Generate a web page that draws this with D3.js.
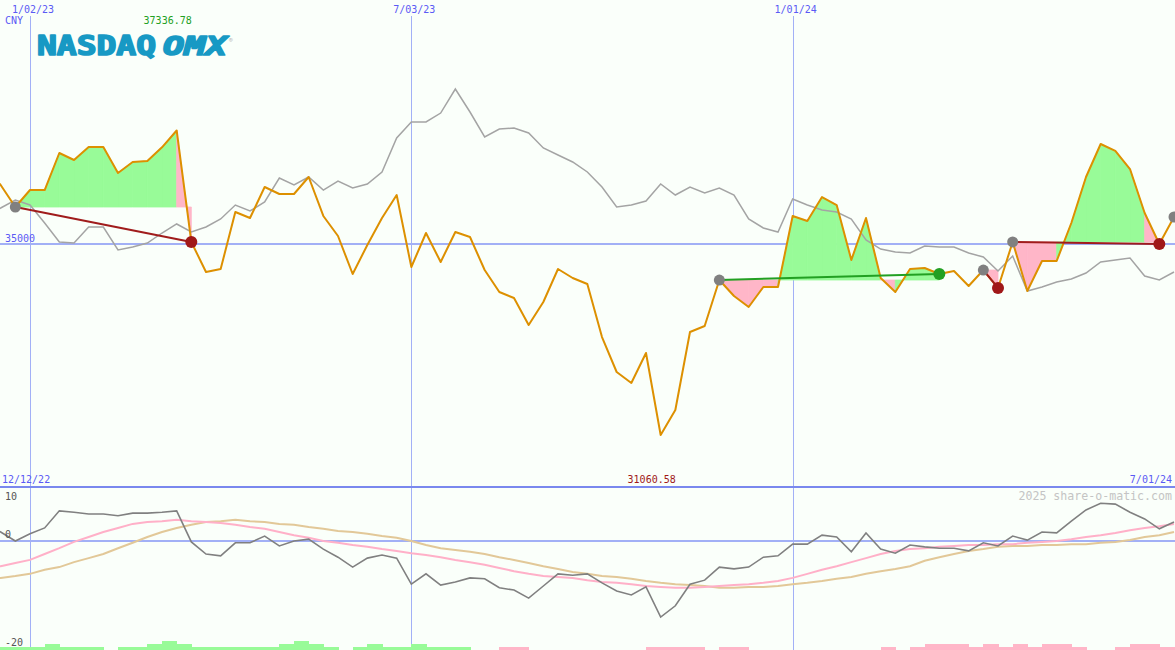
<!DOCTYPE html>
<html>
<head>
<meta charset="utf-8">
<script src="https://cdn.jsdelivr.net/npm/d3@7"></script>
<style>
  html, body { margin: 0; padding: 0; background: #fafffa; }
  svg { display: block; }
  text { font-family: "DejaVu Sans Mono", monospace; font-size: 10px; }
</style>
</head>
<body>
<svg id="chart"></svg>
<script>
// weekly closes, Mondays from 12/12/22 to 7/01/24
const price = [
  36523, 36214, 35760, 36110, 36110, 36873, 36729, 36997, 36997, 36461,
  36688, 36708, 36990, 37336.78, 35039, 34420, 34482, 35657, 35533, 36172,
  36028, 36028, 36378, 35575, 35162, 34379, 34977, 35533, 36007, 34523,
  35224, 34626, 35245, 35142, 34461, 34008, 33884, 33328, 33802, 34482,
  34297, 34173, 33080, 32359, 32132, 32751, 31060.58, 31576, 33184, 33307,
  34255, 33926, 33699, 34111, 34111, 35575, 35471, 35966, 35801, 34668,
  35533, 34297, 34008, 34482, 34503, 34379, 34441, 34132, 34461, 34091,
  35039, 34029, 34647, 34647, 35430, 36378, 37059, 36915, 36543, 35636,
  34998, 35554
];

// comparison line (grey)
const compare = [
  35595, 35739, 35904, 35801, 35430, 35039, 35018, 35348, 35348, 34874,
  34935, 35018, 35224, 35410, 35245, 35348, 35513, 35801, 35678, 35863,
  36358, 36214, 36378, 36110, 36296, 36152, 36234, 36482, 37182, 37512,
  37512, 37697, 38192, 37718, 37203, 37368, 37388, 37285, 36976, 36832,
  36688, 36482, 36172, 35760, 35801, 35884, 36234, 36007, 36172, 36049,
  36152, 36007, 35513, 35327, 35245, 35925, 35801, 35698, 35657, 35513,
  35080, 34894, 34833, 34812, 34956, 34935, 34935, 34812, 34729, 34441,
  34750, 34029, 34111, 34214, 34276, 34400, 34626, 34668, 34709, 34338,
  34255, 34420
];

// lower panel: indicator and its two averages
const indicator = [
  3.6, 2.0, 0, 1.6, 2.9, 6.7, 6.4, 6.0, 6.0, 5.6,
  6.2, 6.2, 6.4, 6.7, -0.2, -2.9, -3.3, -0.4, -0.4, 1.1,
  -1.1, 0, 0.4, -1.8, -3.6, -5.8, -3.8, -3.1, -3.8, -9.6,
  -7.3, -9.8, -9.1, -8.2, -8.4, -10.4, -10.9, -12.7, -10.0, -7.3,
  -7.6, -7.3, -9.3, -11.1, -12.0, -10.2, -16.9, -14.4, -9.6, -8.7,
  -5.8, -6.2, -5.8, -3.6, -3.3, -0.7, -0.7, 1.3, 0.9, -2.4,
  1.8, -1.8, -2.7, -0.9, -1.3, -1.6, -1.6, -2.2, -0.4, -1.1,
  1.1, 0.2, 2.0, 1.8, 4.4, 6.9, 8.4, 8.2, 6.4, 4.9,
  2.7, 4.2
];
const avgFast = [
  -6.2, -5.6, -4.9, -4.2, -2.9, -1.6, -0.2, 0.9, 2.0, 2.9,
  3.8, 4.2, 4.4, 4.7, 4.4, 4.2, 4.0, 3.6, 3.1, 2.7,
  2.0, 1.3, 0.7, 0, -0.4, -0.9, -1.3, -1.8, -2.2, -2.7,
  -3.1, -3.6, -4.2, -4.7, -5.3, -6.0, -6.7, -7.3, -7.8, -8.0,
  -8.2, -8.7, -9.1, -9.3, -9.6, -10.0, -10.2, -10.4, -10.4, -10.2,
  -10.0, -9.8, -9.6, -9.3, -8.9, -8.2, -7.3, -6.4, -5.6, -4.7,
  -3.8, -2.9, -2.2, -1.8, -1.6, -1.3, -1.1, -0.9, -0.9, -0.7,
  -0.7, -0.4, -0.2, 0, 0.4, 0.9, 1.3, 1.8, 2.4, 2.9,
  3.3, 3.8
];
const avgSlow = [
  -8.7, -8.2, -7.8, -7.3, -6.4, -5.8, -4.7, -3.8, -2.9, -1.6,
  -0.4, 0.9, 2.0, 2.9, 3.6, 4.2, 4.4, 4.7, 4.4, 4.2,
  3.8, 3.6, 3.1, 2.7, 2.2, 2.0, 1.6, 1.1, 0.7, 0,
  -0.9, -1.6, -2.0, -2.4, -2.9, -3.6, -4.2, -4.9, -5.6, -6.2,
  -6.9, -7.3, -7.8, -8.0, -8.4, -8.9, -9.3, -9.6, -9.8, -10.0,
  -10.4, -10.4, -10.2, -10.2, -10.0, -9.6, -9.3, -8.9, -8.4, -8.0,
  -7.3, -6.7, -6.2, -5.6, -4.4, -3.6, -2.9, -2.2, -1.8, -1.3,
  -1.1, -1.1, -0.9, -0.9, -0.7, -0.7, -0.4, -0.2, 0.2, 0.9,
  1.3, 2.0
];

// signal strength per week (green +, pink -)
const signal = [
  1, 1, 1, 1, 2, 1, 1, 1, 0, 1, 1, 2, 3, 2, 1, 1, 1, 1, 1, 1,
  2, 3, 2, 1, 0, 1, 2, 1, 1, 2, 1, 1, 1, 0, 0, -1, -1, 0, 0, 0,
  0, 0, 0, 0, 0, -1, -1, -1, -1, 0, -1, -1, 0, 0, 0, 0, 0, 0, 0, 0,
  0, -1, 0, -1, -2, -2, -2, -1, -2, -1, -2, -1, -2, -2, -1, 0, 0, -1, -2, -2,
  -1
];

// trades: [entry week, exit week] (null = still open)
const trades = [[2, 14], [50, 65], [68, 69], [70, 80], [81, null]];

const gridDates = [new Date(2023, 0, 2), new Date(2023, 6, 3), new Date(2024, 0, 1)];
const gridLabels = ['1/02/23', '7/03/23', '1/01/24'];
const priceLevel = 35000;
const startLabel = '12/12/22';
const endLabel = '7/01/24';

const width = 1175;
const height = 650;
const weeks = d3.timeMonday.range(new Date(2022, 11, 12), new Date(2024, 6, 2));

const svg = d3.select('#chart').attr('width', width).attr('height', height);
svg.append('rect').attr('width', width).attr('height', height).attr('fill', '#fafffa');

const x = d3.scaleTime()
  .domain([new Date(2023, 0, 2), new Date(2024, 6, 1)])
  .range([30, 1174]);
const y = d3.scaleLinear().domain([31060.58, 37336.78]).range([435, 130.5]);
const yi = d3.scaleLinear().domain([0, 10]).range([541, 496]);
const yb = d3.scaleLinear().domain([0, 3]).range([650, 641]);
const xi = (i) => x(weeks[i]);

const gridBlue = '#a2b0f6';

// grid
const grid = svg.append('g').attr('shape-rendering', 'crispEdges');
grid.selectAll('line.v')
  .data(gridDates)
  .join('line')
  .attr('x1', (d) => Math.round(x(d)) + 0.5).attr('x2', (d) => Math.round(x(d)) + 0.5)
  .attr('y1', 16).attr('y2', height)
  .attr('stroke', gridBlue).attr('stroke-width', 1);
grid.append('line')
  .attr('x1', 0).attr('x2', width)
  .attr('y1', y(priceLevel)).attr('y2', y(priceLevel))
  .attr('stroke', gridBlue).attr('stroke-width', 2);
grid.append('line')
  .attr('x1', 0).attr('x2', width)
  .attr('y1', yi(0)).attr('y2', yi(0))
  .attr('stroke', gridBlue).attr('stroke-width', 2);
grid.append('line')
  .attr('x1', 0).attr('x2', width)
  .attr('y1', 487).attr('y2', 487)
  .attr('stroke', '#7a88ee').attr('stroke-width', 2);

// trade shading: area between close and entry level, week by week
const polys = [];
trades.forEach(([a, b]) => {
  if (b == null) return;
  const base = price[a];
  for (let k = a; k < b; k++) {
    polys.push({
      pts: [[xi(k), y(base)], [xi(k), y(price[k])], [xi(k + 1), y(price[k + 1])], [xi(k + 1), y(base)]],
      up: price[k + 1] > base,
    });
  }
});
svg.append('g')
  .selectAll('path')
  .data(polys)
  .join('path')
  .attr('d', (d) => d3.line()(d.pts) + 'Z')
  .attr('fill', (d) => (d.up ? '#98fb98' : '#ffb6c8'))
  .attr('stroke', (d) => (d.up ? '#98fb98' : '#ffb6c8'))
  .attr('stroke-width', 0.8)
  .attr('stroke-linejoin', 'miter');

// lines
const idx = d3.range(weeks.length);
const lineOf = (vals, ys) => d3.line().x((i) => xi(i)).y((i) => ys(vals[i]));

svg.append('path')
  .attr('d', lineOf(compare, y)(idx))
  .attr('fill', 'none').attr('stroke', '#a4a4a4').attr('stroke-width', 1.5);

svg.append('path')
  .attr('d', lineOf(price, y)(idx))
  .attr('fill', 'none').attr('stroke', '#dd9000').attr('stroke-width', 2)
  .attr('stroke-linejoin', 'round');

// trade lines
const closed = trades.filter((t) => t[1] != null);
svg.append('g')
  .selectAll('line')
  .data(closed)
  .join('line')
  .attr('x1', (d) => xi(d[0])).attr('y1', (d) => y(price[d[0]]))
  .attr('x2', (d) => xi(d[1])).attr('y2', (d) => y(price[d[1]]))
  .attr('stroke', (d) => (price[d[1]] > price[d[0]] ? '#22a022' : '#a01c1c'))
  .attr('stroke-width', 2);

// entry / exit dots
svg.append('g')
  .selectAll('circle')
  .data(trades)
  .join('circle')
  .attr('cx', (d) => xi(d[0])).attr('cy', (d) => y(price[d[0]]))
  .attr('r', 5.5).attr('fill', '#808080');
svg.append('g')
  .selectAll('circle')
  .data(closed)
  .join('circle')
  .attr('cx', (d) => xi(d[1])).attr('cy', (d) => y(price[d[1]]))
  .attr('r', 6)
  .attr('fill', (d) => (price[d[1]] > price[d[0]] ? '#22a022' : '#a01818'));

// lower panel
svg.append('path')
  .attr('d', lineOf(avgSlow, yi)(idx))
  .attr('fill', 'none').attr('stroke', '#e2c898').attr('stroke-width', 2);
svg.append('path')
  .attr('d', lineOf(avgFast, yi)(idx))
  .attr('fill', 'none').attr('stroke', '#ffb0c8').attr('stroke-width', 2);
svg.append('path')
  .attr('d', lineOf(indicator, yi)(idx))
  .attr('fill', 'none').attr('stroke', '#808080').attr('stroke-width', 1.6);

svg.append('g')
  .attr('shape-rendering', 'crispEdges')
  .selectAll('rect')
  .data(signal.map((v, j) => ({ v, j })).filter((d) => d.v !== 0))
  .join('rect')
  .attr('x', (d) => xi(d.j))
  .attr('width', (d) => xi(d.j + 1) - xi(d.j) + 0.5)
  .attr('y', (d) => yb(Math.abs(d.v)))
  .attr('height', (d) => yb(0) - yb(Math.abs(d.v)))
  .attr('fill', (d) => (d.v > 0 ? '#98fb98' : '#ffb6c8'));

// labels
const blue = '#5a5af5';
const txt = svg.append('g');
txt.selectAll('text.date')
  .data(gridDates)
  .join('text')
  .attr('x', (d) => x(d) + 3).attr('y', 13)
  .attr('text-anchor', 'middle').attr('fill', blue)
  .text((d, i) => gridLabels[i]);
txt.append('text').attr('x', 5).attr('y', 24).attr('fill', blue).text('CNY');
txt.append('text').attr('x', 5).attr('y', y(priceLevel) - 2).attr('fill', blue).text(String(priceLevel));

const iMax = price.indexOf(d3.max(price));
const iMin = price.indexOf(d3.min(price));
txt.append('text').attr('x', xi(iMax) - 9).attr('y', 24)
  .attr('text-anchor', 'middle').attr('fill', '#22a022')
  .text(d3.max(price).toFixed(2));
txt.append('text').attr('x', xi(iMin) - 9).attr('y', 483)
  .attr('text-anchor', 'middle').attr('fill', '#a01818')
  .text(d3.min(price).toFixed(2));
txt.append('text').attr('x', 2).attr('y', 483).attr('fill', blue).text(startLabel);
txt.append('text').attr('x', 1172).attr('y', 483).attr('text-anchor', 'end').attr('fill', blue).text(endLabel);

txt.append('text').attr('x', 5).attr('y', 500).attr('fill', '#555').text('10');
txt.append('text').attr('x', 5).attr('y', 538).attr('fill', '#555').text('0');
txt.append('text').attr('x', 5).attr('y', 646).attr('fill', '#555').text('-20');
txt.append('text').attr('x', 1172).attr('y', 500).attr('text-anchor', 'end')
  .attr('fill', '#c4c4c4').style('font-size', '11.6px').text('2025 share-o-matic.com');

// logo
const logo = svg.append('g').attr('fill', '#1799c4').attr('stroke', '#1799c4').attr('stroke-width', 1.6)
  .attr('stroke-linejoin', 'round')
  .style('font-family', '"DejaVu Sans", sans-serif').style('font-weight', 'bold');
logo.append('text').attr('x', 37).attr('y', 55)
  .attr('textLength', 119).attr('lengthAdjust', 'spacingAndGlyphs')
  .style('font-size', '26px').text('NASDAQ');
logo.append('text').attr('x', 163).attr('y', 55)
  .attr('textLength', 64).attr('lengthAdjust', 'spacingAndGlyphs')
  .style('font-size', '26px').style('font-style', 'italic').text('OMX');
logo.append('text').attr('x', 229).attr('y', 42).attr('fill', '#aaa').attr('stroke', 'none')
  .style('font-size', '6px').style('font-weight', 'normal').text('®');
</script>
</body>
</html>
